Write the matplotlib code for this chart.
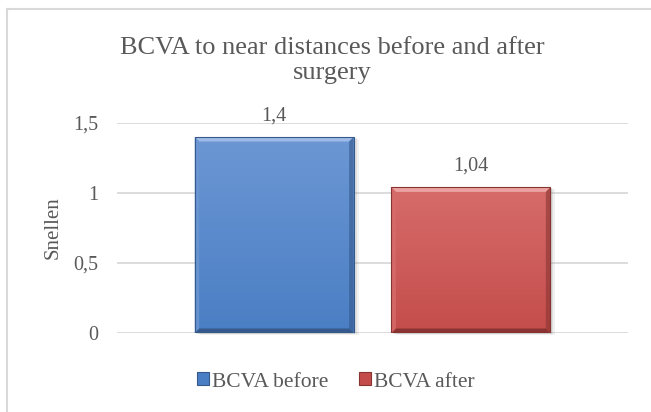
import numpy as np
import matplotlib.pyplot as plt
from matplotlib.colors import LinearSegmentedColormap
from matplotlib.patches import Rectangle, Polygon
from matplotlib.lines import Line2D

# data
series = ["BCVA before", "BCVA after"]
values = [1.4, 1.04]
labels = ["1,4", "1,04"]
yticks = [0, 0.5, 1, 1.5]
ytick_labels = ["0", "0,5", "1", "1,5"]

# colours: (top of body, bottom of body, light bevel, dark bevel)
palettes = [
    ("#6c97d4", "#4a7ec4", "#9dbbe6", "#35598a"),
    ("#d66c6a", "#c44d4b", "#eba3a1", "#8a3432"),
]

plt.rcParams["font.family"] = ["Liberation Serif", "DejaVu Serif"]
text_col = "#595959"

fig = plt.figure(figsize=(6.51, 4.12), dpi=100)
ax = fig.add_axes([117 / 651, 79 / 412, 511 / 651, 210 / 412])

ax.set_xlim(-0.5, 0.5)
ax.set_ylim(0, 1.5)
for s in ax.spines.values():
    s.set_visible(False)
ax.set_xticks([])
ax.set_yticks(yticks)
ax.set_yticklabels(ytick_labels, fontsize=14.5, color=text_col)
ax.tick_params(axis="y", length=0, pad=13.5)
ax.yaxis.grid(True, color="#d9d9d9", linewidth=1.3)
ax.set_axisbelow(True)

pos = [-0.1925, 0.1925]
width = 0.311
px_x = 1 / 511      # one pixel in x data units
px_y = 1.5 / 210    # one pixel in y data units
bx, by = 4.5 * px_x, 4.5 * px_y

for x, v, lab, pal in zip(pos, values, labels, palettes):
    top, bottom, light, dark = pal
    x0, x1 = x - width / 2, x + width / 2
    # soft shadow on the right / below
    for k, a in [(5, 0.10), (3, 0.15), (1.5, 0.2)]:
        ax.add_patch(Rectangle((x0 + k * px_x, -k * px_y * 0.4), width, v,
                               facecolor="#7f7f7f", edgecolor="none", alpha=a,
                               zorder=2, clip_on=False))
    bar = Rectangle((x0, 0), width, v, facecolor=bottom, edgecolor="none", zorder=3)
    ax.add_patch(bar)
    cmap = LinearSegmentedColormap.from_list("g", [bottom, top])
    grad = np.linspace(0, 1, 256).reshape(-1, 1)
    im = ax.imshow(grad, extent=(x0, x1, 0, v), origin="lower", aspect="auto",
                   cmap=cmap, zorder=3.1)
    im.set_clip_path(bar)
    # bevel edges
    ax.add_patch(Polygon([(x0, v), (x1, v), (x1 - bx, v - by), (x0 + bx, v - by)],
                         facecolor=light, edgecolor="none", zorder=3.2))
    ax.add_patch(Polygon([(x0, 0), (x1, 0), (x1 - bx, by), (x0 + bx, by)],
                         facecolor=dark, edgecolor="none", zorder=3.2))
    ax.add_patch(Polygon([(x0, 0), (x0, v), (x0 + bx, v - by), (x0 + bx, by)],
                         facecolor=top, edgecolor="none", alpha=0.8, zorder=3.2))
    ax.add_patch(Polygon([(x1, 0), (x1, v), (x1 - bx, v - by), (x1 - bx, by)],
                         facecolor=dark, edgecolor="none", alpha=0.6, zorder=3.2))
    ax.add_patch(Rectangle((x0, 0), width, v, facecolor="none", edgecolor=dark,
                           linewidth=0.8, zorder=3.3))
    ax.annotate(lab, (x, v), xytext=(0, 12), textcoords="offset points",
                ha="center", va="baseline", fontsize=14.5, color=text_col)

# restore limits after imshow
ax.set_xlim(-0.5, 0.5)
ax.set_ylim(0, 1.5)

fig.text(332 / 651, 1 - 54 / 412, "BCVA to near distances before and after",
         ha="center", va="baseline", fontsize=19, color=text_col)
fig.text(332 / 651, 1 - 79 / 412, "surgery",
         ha="center", va="baseline", fontsize=19, color=text_col)
fig.text(53 / 651, 1 - 228 / 412, "Snellen", rotation=90, ha="center",
         va="center", fontsize=15, color=text_col)

handles = [Rectangle((0, 0), 1, 1, facecolor=p[1], edgecolor=p[3], linewidth=0.8)
           for p in palettes]
fig.legend(handles, series, loc="center", bbox_to_anchor=(336 / 651, 1 - 382 / 412),
           ncol=2, frameon=False, fontsize=15.5, labelcolor=text_col,
           handlelength=0.55, handleheight=0.55, handletextpad=0.15,
           columnspacing=1.4)

# chart frame (top and left edges visible)
fig.add_artist(Line2D([7 / 651, 7 / 651], [0, 1 - 9 / 412], color="#d9d9d9",
                      linewidth=1.5, transform=fig.transFigure))
fig.add_artist(Line2D([7 / 651, 1], [1 - 9 / 412, 1 - 9 / 412], color="#d9d9d9",
                      linewidth=1.5, transform=fig.transFigure))

fig.savefig("out.png", dpi=100)
